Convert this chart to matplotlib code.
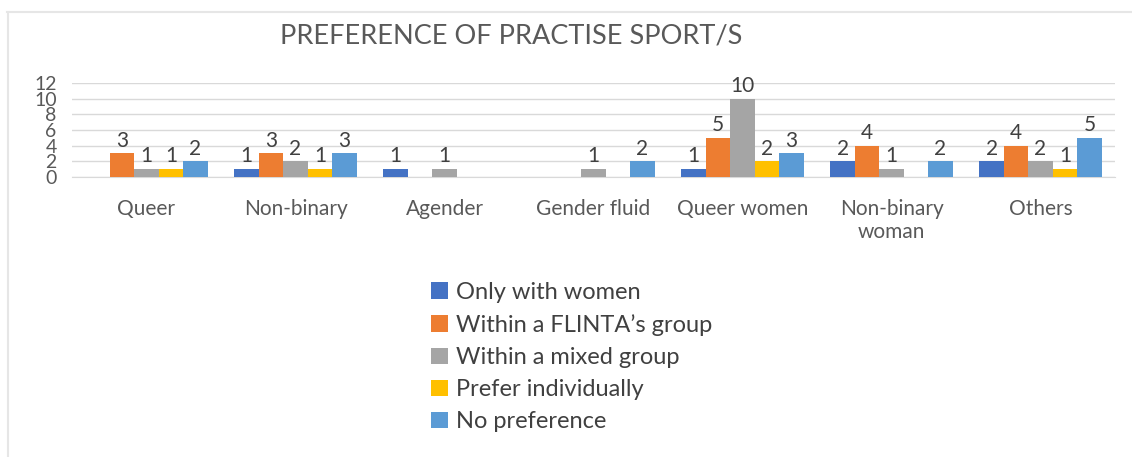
import numpy as np
import matplotlib
matplotlib.use("Agg")
import matplotlib.pyplot as plt
from matplotlib.lines import Line2D

plt.rcParams['font.family'] = ['Lato', 'DejaVu Sans']

categories = ['Queer', 'Non-binary', 'Agender', 'Gender fluid', 'Queer women',
              'Non-binary\nwoman', 'Others']
series_names = ['Only with women', 'Within a FLINTA\u2019s group', 'Within a mixed group',
                'Prefer individually', 'No preference']
only_women = [0, 1, 1, 0, 1, 2, 2]
flinta = [3, 3, 0, 0, 5, 4, 4]
mixed = [1, 2, 1, 1, 10, 1, 2]
individually = [1, 1, 0, 0, 2, 0, 1]
no_pref = [2, 3, 0, 2, 3, 2, 5]
series = [only_women, flinta, mixed, individually, no_pref]
colors = ['#4472C4', '#ED7D31', '#A5A5A5', '#FFC000', '#5B9BD5']

fig = plt.figure(figsize=(11.32, 4.57), dpi=100)
ax = fig.add_axes([72/1132, 1-177/457, (1115-72)/1132, (177-83)/457])

x = np.arange(len(categories))
w = 0.164
for i, (vals, col, name) in enumerate(zip(series, colors, series_names)):
    bars = ax.bar(x + (i - 2) * w, vals, w, color=col, label=name, zorder=3)
    labels = [str(v) if v else '' for v in vals]
    ax.bar_label(bars, labels=labels, padding=2, fontsize=15, color='#404040')

ax.set_xlim(-0.5, len(categories) - 0.5)
ax.set_ylim(0, 12)
ax.set_yticks(range(0, 13, 2))
ax.set_xticks(x)
ax.set_xticklabels(categories, fontsize=15, color='#595959', linespacing=1.2)
ax.tick_params(axis='x', length=0, pad=15.5)
ax.tick_params(axis='y', length=0, pad=11, labelsize=14, labelcolor='#595959')
ax.grid(axis='y', color='#d9d9d9', linewidth=1, zorder=0)
for s in ['top', 'right', 'left']:
    ax.spines[s].set_visible(False)
ax.spines['bottom'].set_color('#d9d9d9')

fig.text(0.452, 1-36/457, 'PREFERENCE OF PRACTISE SPORT/S', ha='center', va='center',
         fontsize=19.5, color='#595959')

fig.legend(loc='upper left', bbox_to_anchor=(431/1132, 1-282/457), frameon=False,
           fontsize=17, handlelength=0.7, handleheight=0.7, handletextpad=0.35,
           labelspacing=0.47, labelcolor='#404040', borderaxespad=0, borderpad=0)

# chart frame lines
fig.add_artist(Line2D([7/1132, 1], [1-11.5/457, 1-11.5/457], color='#e6e6e6', lw=1.5))
fig.add_artist(Line2D([7.5/1132, 7.5/1132], [0, 1-11.5/457], color='#e6e6e6', lw=1.5))

fig.savefig('out.png', dpi=100)
